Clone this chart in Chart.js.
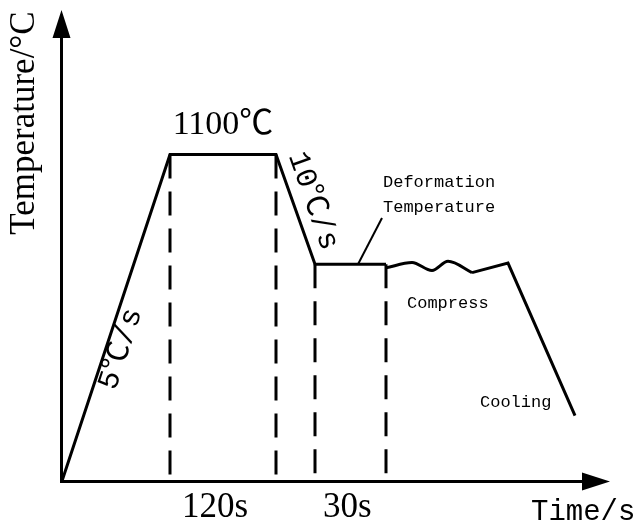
<!DOCTYPE html>
<html>
<head>
<meta charset="utf-8">
<script src="https://cdn.jsdelivr.net/npm/chart.js@4.4.1/dist/chart.umd.min.js"></script>
<style>
  html, body { margin: 0; padding: 0; background: #fff; }
  canvas { display: block; }
</style>
</head>
<body>
<canvas id="chart" width="638" height="530"></canvas>
<script>
// ----------------- DATA (schematic units: time on x, temperature on y) -----------------
// heating, hold at 1100, cooling down to the deformation temperature
const profileTime = [0, 108, 214, 253, 324];
const profileTemp = [0, 1100, 1100, 730, 730];

// compression stage: the wavy part
const compressTime = [324, 350, 370, 386, 410];
const compressTemp = [718, 736, 709, 740, 702];

// end of compression, then cooling
const coolTime = [410, 446, 513];
const coolTemp = [702, 734, 220];

// dashed markers dropped from the corners
const markerTime = [108, 214, 253, 324];
const markerTemp = [1100, 1100, 730, 730];
const markerFloor = 15;

const holdLabel = "1100℃";
const stageLabels = ["120s", "30s"];
const rateLabels = ["5℃/s", "10℃/s"];

const SERIF = '"Liberation Serif", "Noto Sans CJK SC", serif';
const MONO = '"Liberation Mono", "Noto Sans CJK SC", monospace';

const toPoints = (xs, ys) => xs.map((x, i) => ({ x: x, y: ys[i] }));

const lineStyle = {
  showLine: true,
  pointRadius: 0,
  borderColor: "#000",
  borderWidth: 3,
  borderJoinStyle: "miter",
  tension: 0,
};

const datasets = [
  Object.assign({ data: toPoints(profileTime, profileTemp) }, lineStyle),
  Object.assign({ data: toPoints(compressTime, compressTemp), cubicInterpolationMode: "monotone" }, lineStyle),
  Object.assign({ data: toPoints(coolTime, coolTemp) }, lineStyle),
];
markerTime.forEach((t, i) => {
  datasets.push(Object.assign({}, lineStyle, {
    data: [{ x: t, y: markerTemp[i] }, { x: t, y: markerFloor }],
    borderDash: [24, 13],
  }));
});

// ----------------- AXES + ANNOTATIONS -----------------
function text(ctx, str, x, y, font, align, angle) {
  ctx.save();
  ctx.translate(x, y);
  if (angle) ctx.rotate(angle);
  ctx.font = font;
  ctx.textAlign = align || "left";
  ctx.textBaseline = angle ? "middle" : "alphabetic";
  ctx.fillText(str, 0, 0);
  ctx.restore();
}

const schematic = {
  id: "schematic",
  afterDatasetsDraw(chart) {
    const ctx = chart.ctx;
    const area = chart.chartArea;
    const xs = chart.scales.x, ys = chart.scales.y;
    const px = v => xs.getPixelForValue(v);
    const py = v => ys.getPixelForValue(v);
    const ox = area.left - 0.5, oy = area.bottom + 0.5;

    ctx.save();
    ctx.fillStyle = "#000";
    ctx.strokeStyle = "#000";
    ctx.lineWidth = 3;

    // axes with arrow heads
    const yTip = area.top - 2, xTip = area.right - 4;
    ctx.beginPath();
    ctx.moveTo(ox, oy);
    ctx.lineTo(ox, yTip + 26);
    ctx.moveTo(ox - 1.5, oy);
    ctx.lineTo(xTip - 26, oy);
    ctx.stroke();
    ctx.beginPath();
    ctx.moveTo(ox, yTip);
    ctx.lineTo(ox - 9, yTip + 28);
    ctx.lineTo(ox + 9, yTip + 28);
    ctx.closePath();
    ctx.moveTo(xTip, oy);
    ctx.lineTo(xTip - 28, oy - 9);
    ctx.lineTo(xTip - 28, oy + 9);
    ctx.closePath();
    ctx.fill();

    // axis titles
    ctx.save();
    ctx.translate(34, 123);
    ctx.rotate(-Math.PI / 2);
    ctx.font = "35px " + SERIF;
    ctx.textAlign = "center";
    ctx.textBaseline = "alphabetic";
    ctx.fillText("Temperature/°C", 0, 0);
    ctx.restore();
    text(ctx, "Time/s", 531, 520, "29px " + MONO);

    // hold temperature
    text(ctx, holdLabel, (px(profileTime[1]) + px(profileTime[2])) / 2, py(profileTemp[1]) - 20, "34px " + SERIF, "center");

    // rates along the heating and cooling slopes
    const upAngle = Math.atan2(py(profileTemp[1]) - py(profileTemp[0]), px(profileTime[1]) - px(profileTime[0]));
    const downAngle = Math.atan2(py(profileTemp[3]) - py(profileTemp[2]), px(profileTime[3]) - px(profileTime[2]));
    text(ctx, rateLabels[0], 121, 349, "30px " + MONO, "center", upAngle);
    text(ctx, rateLabels[1], 313, 201, "30px " + MONO, "center", downAngle);

    // stage durations under the axis
    text(ctx, stageLabels[0], px(markerTime[0]) + 12, 517, "35px " + SERIF);
    text(ctx, stageLabels[1], px(markerTime[2]) + 8, 517, "35px " + SERIF);

    // deformation temperature callout
    text(ctx, "Deformation", 383, 187, "17px " + MONO);
    text(ctx, "Temperature", 383, 212, "17px " + MONO);
    ctx.lineWidth = 2;
    ctx.beginPath();
    ctx.moveTo(382, 218);
    ctx.lineTo(358, py(profileTemp[3]));
    ctx.stroke();

    text(ctx, "Compress", 407, 308, "17px " + MONO);
    text(ctx, "Cooling", 480, 407, "17px " + MONO);
    ctx.restore();
  },
};

// ----------------- CHART -----------------
const chart = new Chart(document.getElementById("chart").getContext("2d"), {
  type: "scatter",
  data: { datasets: datasets },
  options: {
    responsive: false,
    animation: false,
    devicePixelRatio: 1,
    layout: { padding: { left: 62, right: 24, top: 12, bottom: 49 } },
    plugins: { legend: { display: false }, tooltip: { enabled: false } },
    scales: {
      x: { type: "linear", min: 0, max: 552, display: false },
      y: { type: "linear", min: 0, max: 1580, display: false },
    },
  },
  plugins: [schematic],
});
</script>
</body>
</html>
